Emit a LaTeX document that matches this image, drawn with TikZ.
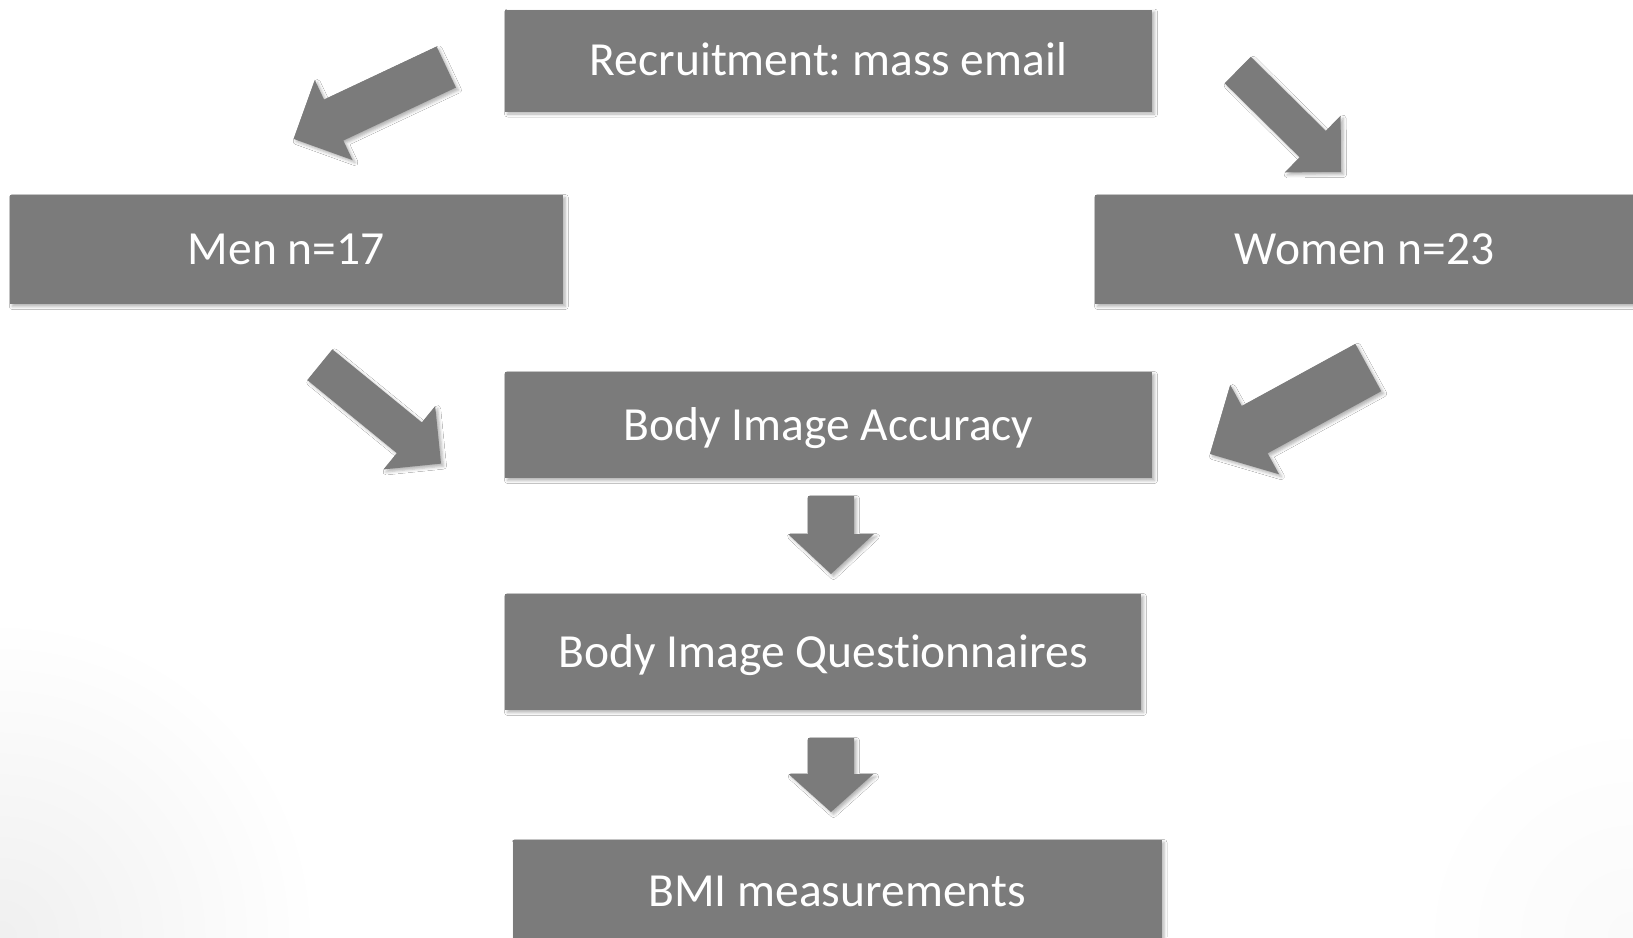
\documentclass[tikz,border=0pt]{standalone}
\usepackage{fontspec}
\setmainfont{Carlito}[Ligatures={NoCommon}]
\usetikzlibrary{calc,shadows.blur}
\definecolor{boxgray}{RGB}{123,123,123}
\tikzset{
  x=1pt, y=-1pt,
  softshadow/.style={blur shadow={shadow xshift=2.5pt, shadow yshift=-2.5pt, shadow blur radius=3pt, shadow opacity=30}},
  flowbox/.style={rectangle, fill=boxgray, text=white, inner sep=0pt,
    font=\fontsize{47.5}{57}\selectfont\frenchspacing, text height=30.6pt, text depth=0pt, softshadow},
  blockarrow/.style={fill=boxgray, softshadow},
}
% #1 start (tail centre), #2 tip, #3 shaft half width, #4 head half width, #5 head length
\newcommand\flowarrow[5]{%
  \path[blockarrow]
    ($(#1)!#3pt!90:(#2)$) --
    ($(#2)!#5pt!(#1)!#3pt!90:(#2)$) --
    ($(#2)!#5pt!(#1)!#4pt!90:(#2)$) --
    (#2) --
    ($(#2)!#5pt!(#1)!#4pt!-90:(#2)$) --
    ($(#2)!#5pt!(#1)!#3pt!-90:(#2)$) --
    ($(#1)!#3pt!-90:(#2)$) -- cycle;}
\begin{document}
\begin{tikzpicture}
\useasboundingbox (0,0) rectangle (1633,937);
\fill[white] (0,0) rectangle (1633,937);
\shade[inner color=black!6, outer color=white] (0,937) circle (320);
\shade[inner color=black!2, outer color=white] (1633,937) circle (220);

% boxes
\node[flowbox, minimum width=647pt, minimum height=102pt] (rec)   at (828.5,60.5)  {Recruitment: mass email};
\node[flowbox, minimum width=553pt, minimum height=109pt] (men)   at (286.3,249.5) {Men n=17};
\node[flowbox, minimum width=539pt, minimum height=109pt] (women) at (1364.5,249.5) {Women n=23};
\node[flowbox, minimum width=647pt, minimum height=106pt] (bia)   at (828.5,425)   {Body Image Accuracy};
\node[flowbox, minimum width=636pt, minimum height=116pt] (biq)   at (823,652)     {Body Image Questionnaires};
\node[flowbox, minimum width=649pt, minimum height=103pt] (bmi)   at (837,891.5)   {BMI measurements};

% arrow end points
\coordinate (recmenS)   at (446.3,67);
\coordinate (recmenE)   at (293.6,138.9);
\coordinate (recwomS)   at (1237.7,70);
\coordinate (recwomE)   at (1341,172);
\coordinate (menbiaS)   at (319.8,364.7);
\coordinate (menbiaE)   at (441,463.6);
\coordinate (wombiaS)   at (1368.3,367.5);
\coordinate (wombiaE)   at (1210,454);
\coordinate (biabiqS)   at (831,496);
\coordinate (biabiqE)   at (831,574);
\coordinate (biqbmiS)   at (831,738);
\coordinate (biqbmiE)   at (831,812);

\flowarrow{recmenS}{recmenE}{22.7}{44.3}{44.3}
\flowarrow{recwomS}{recwomE}{18.6}{39.8}{39.8}
\flowarrow{menbiaS}{menbiaE}{19.8}{40.9}{40.9}
\flowarrow{wombiaS}{wombiaE}{27}{50.9}{50.9}
\flowarrow{biabiqS}{biabiqE}{23}{43}{40}
\flowarrow{biqbmiS}{biqbmiE}{23}{42.5}{38}
\end{tikzpicture}
\end{document}
